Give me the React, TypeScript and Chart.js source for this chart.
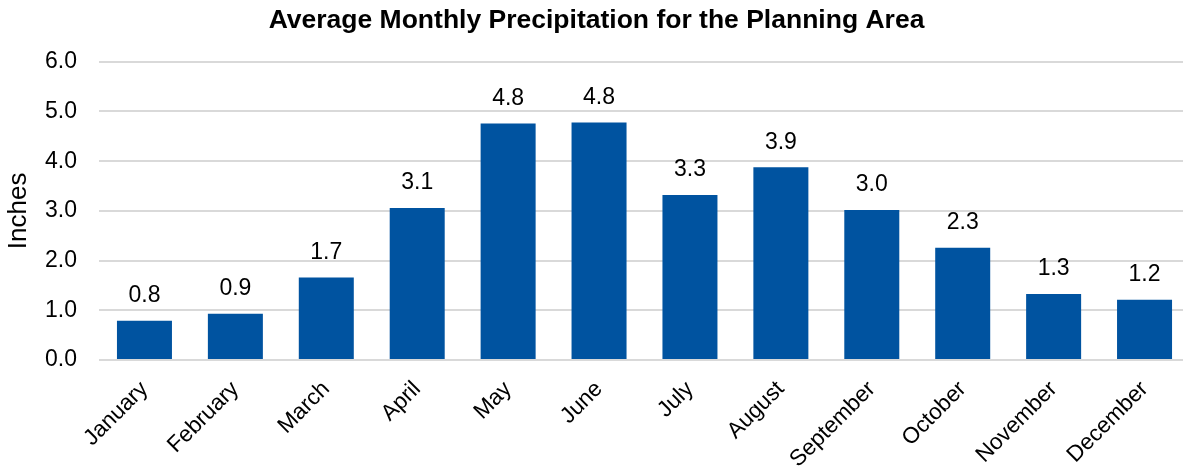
import React, { useEffect, useRef } from "react";
import { Chart, registerables } from "chart.js";

Chart.register(...registerables);

const months = ["January", "February", "March", "April", "May", "June", "July", "August", "September", "October", "November", "December"];
const precipitation = [0.79, 0.93, 1.66, 3.06, 4.76, 4.78, 3.32, 3.88, 3.02, 2.26, 1.33, 1.21];
const yTicks = [0, 1, 2, 3, 4, 5, 6];
const chartTitle = "Average Monthly Precipitation for the Planning Area";
const yAxisTitle = "Inches";

const FONT = "'Liberation Sans', Arial, Helvetica, sans-serif";

const valueLabels = {
  id: "valueLabels",
  afterDatasetsDraw(chart: any) {
    const ctx = chart.ctx;
    const meta = chart.getDatasetMeta(0);
    const data = chart.data.datasets[0].data as number[];
    ctx.save();
    ctx.font = `23px ${FONT}`;
    ctx.fillStyle = "#000";
    ctx.textAlign = "center";
    ctx.textBaseline = "middle";
    meta.data.forEach((bar: any, i: number) => {
      ctx.fillText(data[i].toFixed(1), bar.x, bar.y - 25);
    });
    ctx.restore();
  },
};

export default function App() {
  const ref = useRef<HTMLCanvasElement | null>(null);
  useEffect(() => {
    document.body.style.margin = "0";
    document.body.style.overflow = "hidden";
    const chart = new Chart(ref.current!, {
      type: "bar",
      data: {
        labels: months,
        datasets: [
          {
            data: precipitation,
            backgroundColor: "#0053A0",
            barPercentage: 0.605,
            categoryPercentage: 1,
          },
        ],
      },
      options: {
        responsive: false,
        animation: false,
        layout: { padding: { left: 3, right: 10, top: 0, bottom: 0 } },
        plugins: {
          legend: { display: false },
          tooltip: { enabled: false },
          title: {
            display: true,
            text: chartTitle,
            color: "#000",
            font: { family: FONT, size: 26.5, weight: "bold" },
            padding: { top: 5, bottom: 25 },
          },
        },
        scales: {
          x: {
            grid: { display: false, drawTicks: false },
            border: { display: false },
            afterFit: (scale: any) => {
              scale.height = 112;
              scale.paddingLeft = 0;
              scale.paddingRight = 0;
            },
            ticks: {
              color: "#000",
              font: { family: FONT, size: 22.5 },
              maxRotation: 45,
              minRotation: 45,
              padding: 16,
              autoSkip: false,
            },
          },
          y: {
            min: yTicks[0],
            max: yTicks[yTicks.length - 1],
            afterBuildTicks: (scale: any) => {
              scale.ticks = yTicks.map((v) => ({ value: v }));
            },
            afterFit: (scale: any) => {
              scale.width = 96;
              scale.paddingTop = 0;
              scale.paddingBottom = 0;
            },
            grid: { color: "#D9D9D9", lineWidth: 2, drawTicks: false },
            border: { display: false },
            ticks: {
              color: "#000",
              font: { family: FONT, size: 23 },
              padding: 22,
              callback: (v: any) => Number(v).toFixed(1),
            },
            title: {
              display: true,
              text: yAxisTitle,
              color: "#000",
              font: { family: FONT, size: 26 },
              padding: { top: 0, bottom: 12 },
            },
          },
        },
      },
      plugins: [valueLabels],
    });
    return () => chart.destroy();
  }, []);
  return (
    <div style={{ width: 1183, height: 472, overflow: "hidden", background: "#fff" }}>
      <canvas ref={ref} width={1200} height={472} style={{ display: "block" }} />
    </div>
  );
}
